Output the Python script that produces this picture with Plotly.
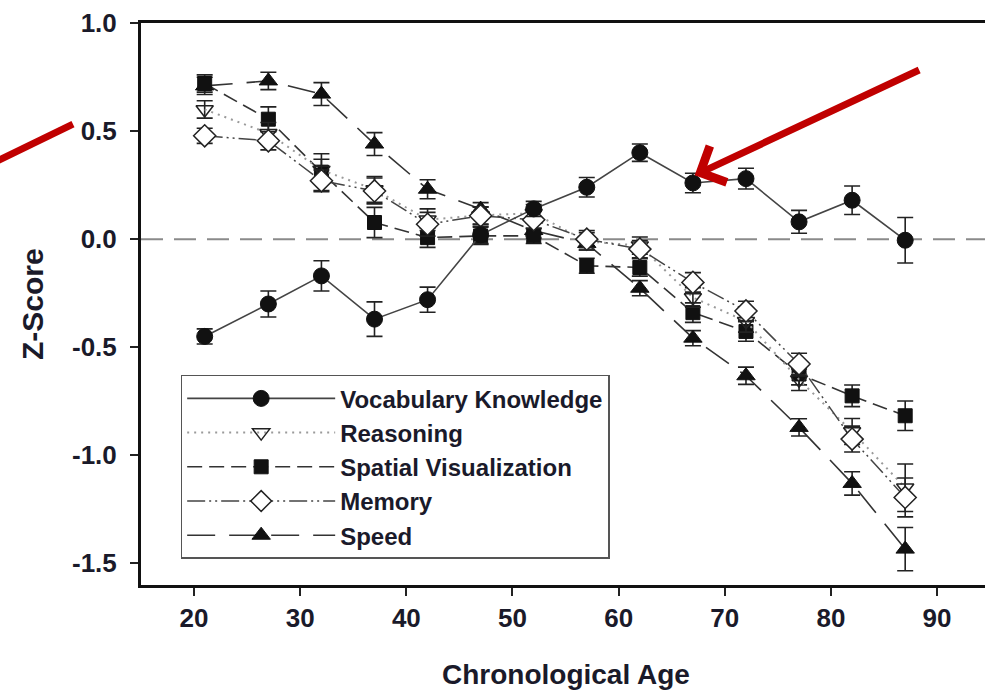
import plotly.graph_objects as go

ages = [21, 27, 32, 37, 42, 47, 52, 57, 62, 67, 72, 77, 82, 87]

vocab = [-0.45, -0.30, -0.17, -0.37, -0.28, 0.02, 0.14, 0.24, 0.40, 0.26, 0.28, 0.08, 0.18, -0.005]
vocab_err = [0.035, 0.06, 0.07, 0.08, 0.058, 0.04, 0.035, 0.045, 0.04, 0.045, 0.048, 0.053, 0.066, 0.105]

reasoning = [0.60, 0.49, 0.32, 0.23, 0.09, 0.11, 0.12, -0.01, -0.03, -0.27, -0.38, -0.65, -0.89, -1.15]
reasoning_err = [0.04, 0.05, 0.05, 0.06, 0.05, 0.04, 0.04, 0.04, 0.04, 0.045, 0.05, 0.05, 0.06, 0.11]

spatial = [0.72, 0.555, 0.31, 0.077, 0.007, 0.015, 0.015, -0.123, -0.131, -0.34, -0.427, -0.624, -0.725, -0.817]
spatial_err = [0.04, 0.057, 0.085, 0.07, 0.045, 0.04, 0.035, 0.035, 0.04, 0.045, 0.045, 0.05, 0.05, 0.068]

memory = [0.478, 0.455, 0.27, 0.223, 0.069, 0.108, 0.09, 0.0, -0.046, -0.2, -0.332, -0.578, -0.925, -1.195]
memory_err = [0.035, 0.042, 0.05, 0.06, 0.055, 0.04, 0.04, 0.04, 0.04, 0.045, 0.045, 0.05, 0.06, 0.09]

speed = [0.709, 0.732, 0.671, 0.44, 0.231, 0.139, 0.04, -0.02, -0.227, -0.458, -0.632, -0.871, -1.13, -1.434]
speed_err = [0.04, 0.04, 0.053, 0.053, 0.044, 0.03, 0.035, 0.03, 0.035, 0.035, 0.04, 0.04, 0.054, 0.1]

x_ticks = [20, 30, 40, 50, 60, 70, 80, 90]
y_ticks = [-1.5, -1.0, -0.5, 0.0, 0.5, 1.0]
y_ticktext = ["-1.5", "-1.0", "-0.5", "0.0", "0.5", "1.0"]

FONT = "Liberation Sans, Arial, sans-serif"
TXT = "#1a1a2a"

def err(vals):
    return dict(type="data", array=vals, visible=True, color="#222222", thickness=1.6, width=8)

fig = go.Figure()

fig.add_trace(go.Scatter(
    x=ages, y=speed, name="Speed", mode="lines+markers",
    line=dict(color="#333333", width=1.6, dash="28px,14px"),
    marker=dict(symbol="triangle-up", size=16, color="#111111", line=dict(color="#111111", width=1)),
    error_y=err(speed_err)))

fig.add_trace(go.Scatter(
    x=ages, y=spatial, name="Spatial Visualization", mode="lines+markers",
    line=dict(color="#333333", width=1.6, dash="15px,7px"),
    marker=dict(symbol="square", size=14, color="#111111", line=dict(color="#111111", width=1)),
    error_y=err(spatial_err)))

fig.add_trace(go.Scatter(
    x=ages, y=reasoning, name="Reasoning", mode="lines+markers",
    line=dict(color="#9a9a9a", width=2, dash="2px,5px"),
    marker=dict(symbol="triangle-down-open", size=15, color="#222222", line=dict(color="#222222", width=1.5)),
    error_y=err(reasoning_err)))

fig.add_trace(go.Scatter(
    x=ages, y=memory, name="Memory", mode="lines+markers",
    line=dict(color="#444444", width=1.5, dash="18px,4px,2px,4px,2px,4px"),
    marker=dict(symbol="diamond", size=17, color="white", line=dict(color="#222222", width=1.5)),
    error_y=err(memory_err)))

fig.add_trace(go.Scatter(
    x=ages, y=vocab, name="Vocabulary Knowledge", mode="lines+markers",
    line=dict(color="#444444", width=1.6),
    marker=dict(symbol="circle", size=16, color="#111111", line=dict(color="#111111", width=1)),
    error_y=err(vocab_err)))

ranks = {"Vocabulary Knowledge": 1, "Reasoning": 2, "Spatial Visualization": 3, "Memory": 4, "Speed": 5}
for tr in fig.data:
    tr.legendrank = ranks[tr.name]

# zero reference line
fig.add_hline(y=0, line=dict(color="#8a8a8a", width=2, dash="22px,11px"), layer="below")

# red arrows
fig.add_annotation(x=0.656, y=0.729, xref="paper", yref="paper", text="", showarrow=True,
                   ax=226, ay=-106, arrowhead=4, arrowsize=1.1, arrowwidth=7, arrowcolor="#c00000")
fig.add_shape(type="line", xref="paper", yref="paper", x0=-0.175, y0=0.751, x1=-0.0806, y1=0.820,
              line=dict(color="#c00000", width=7))

# axis titles
fig.add_annotation(x=-0.129, y=0.5, xref="paper", yref="paper", text="Z-Score", textangle=-90,
                   showarrow=False, xanchor="center", yanchor="middle",
                   font=dict(family=FONT, size=30, color=TXT, weight="bold"))
fig.add_annotation(x=0.503, y=-0.16, xref="paper", yref="paper", text="Chronological Age",
                   showarrow=False, xanchor="center", yanchor="middle",
                   font=dict(family=FONT, size=28, color=TXT, weight="bold"))

fig.update_layout(
    width=985, height=691,
    margin=dict(l=141, r=0, t=23, b=106, autoexpand=False),
    paper_bgcolor="white", plot_bgcolor="white",
    font=dict(family=FONT, color=TXT),
    showlegend=True,
    legend=dict(x=0.047, y=0.374, xanchor="left", yanchor="top",
                bgcolor="white", bordercolor="#555555", borderwidth=1.5,
                font=dict(family=FONT, size=24, color=TXT, weight="bold"),
                itemwidth=148, tracegroupgap=0),
    xaxis=dict(range=[15.0, 94.52], tickvals=x_ticks, ticks="outside", ticklen=8, tickwidth=2,
               tickcolor="#222222", showline=True, linecolor="#111111", linewidth=3, mirror=True,
               showgrid=False, zeroline=False, automargin=False,
               tickfont=dict(family=FONT, size=26, color=TXT, weight="bold")),
    yaxis=dict(range=[-1.6, 1.0], tickvals=y_ticks, ticktext=y_ticktext, ticks="outside", ticklen=8, tickwidth=2,
               tickcolor="#222222", showline=True, linecolor="#111111", linewidth=3,
               showgrid=False, zeroline=False, automargin=False, ticklabelstandoff=8,
               tickfont=dict(family=FONT, size=26, color=TXT, weight="bold")),
)

fig.write_html("out.html", config={"displayModeBar": False},
               post_script="document.body.style.margin='0';document.body.style.overflow='hidden';")
